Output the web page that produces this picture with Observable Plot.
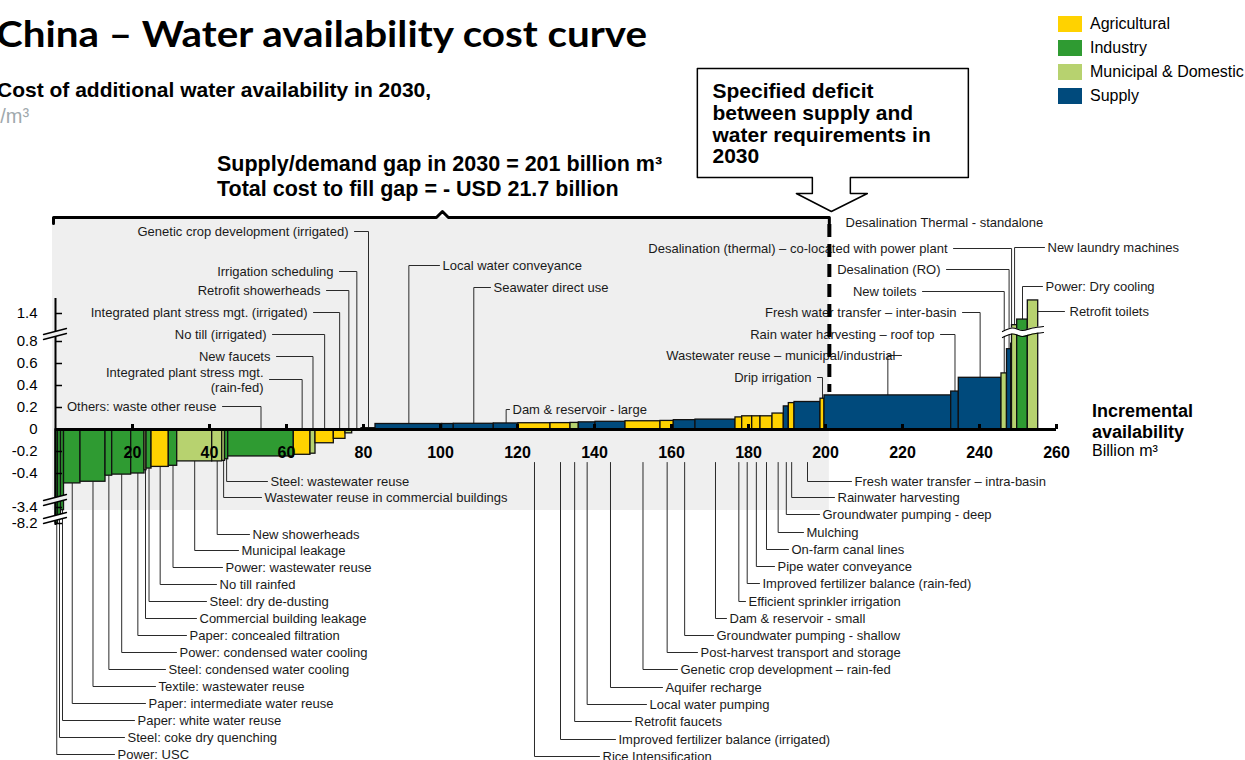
<!DOCTYPE html>
<html><head><meta charset="utf-8">
<script src="https://cdn.jsdelivr.net/npm/d3@7"></script>
<script src="https://cdn.jsdelivr.net/npm/@observablehq/plot@0.6"></script>
<style>
html,body{margin:0;padding:0;background:#fff;}
#wrap{position:relative;width:1245px;height:760px;overflow:hidden;font-family:"Liberation Sans",Arial,sans-serif;color:#000;}
#chart{position:absolute;left:0;top:0;}
.t{position:absolute;white-space:nowrap;line-height:1;}
.sw{position:absolute;width:24px;height:16px;}
</style></head>
<body>
<div id="wrap">
<div id="chart"></div>
<div class="t" id="title" style="left:-4px;top:14px;font-family:Lato,'Noto Sans',sans-serif;font-weight:700;font-size:37px;">China – Water availability cost curve</div>
<div class="t" style="left:-3px;top:79px;font-weight:bold;font-size:21px;">Cost of additional water availability in 2030,</div>
<div class="t" style="left:-42px;top:106px;font-size:20px;color:#9fa9ad;">USD/m³</div>
<div class="t" style="left:217px;top:154px;font-weight:bold;font-size:21.5px;">Supply/demand gap in 2030 = 201 billion m³</div>
<div class="t" style="left:217px;top:179px;font-weight:bold;font-size:21.5px;">Total cost to fill gap = - USD 21.7 billion</div>
<div id="legend"></div>
<div class="t" style="left:1092px;top:402px;font-weight:bold;font-size:18px;">Incremental</div>
<div class="t" style="left:1092px;top:423px;font-weight:bold;font-size:18px;">availability</div>
<div class="t" style="left:1092px;top:443px;font-size:16px;">Billion m³</div>
</div>
<script>
// ---------------- data ----------------
const measures = [
"Power: USC","Steel: coke dry quenching","Paper: white water reuse","Paper: intermediate water reuse",
"Textile: wastewater reuse","Steel: condensed water cooling","Power: condensed water cooling","Paper: concealed filtration",
"Commercial building leakage","Steel: dry de-dusting","No till rainfed","Power: wastewater reuse",
"Municipal leakage","New showerheads","Wastewater reuse in commercial buildings","Steel: wastewater reuse",
"Others: waste other reuse","Integrated plant stress mgt. (rain-fed)","New faucets","No till (irrigated)",
"Integrated plant stress mgt. (irrigated)","Retrofit showerheads","Irrigation scheduling","Genetic crop development (irrigated)",
"Local water conveyance","Other supply","Seawater direct use","Dam & reservoir - large",
"Rice Intensification","Improved fertilizer balance (irrigated)","Retrofit faucets","Local water pumping",
"Aquifer recharge","Genetic crop development – rain-fed","Post-harvest transport and storage","Groundwater pumping - shallow",
"Dam & reservoir - small","Efficient sprinkler irrigation","Improved fertilizer balance (rain-fed)","Pipe water conveyance",
"On-farm canal lines","Mulching","Groundwater pumping - deep","Rainwater harvesting",
"Fresh water transfer – intra-basin","Drip irrigation","Wastewater reuse – municipal/industrial","Rain water harvesting – roof top",
"Fresh water transfer – inter-basin","New toilets","Desalination (RO)","Desalination (thermal) – co-located with power plant",
"New laundry machines","Power: Dry cooling","Retrofit toilets"];
// incremental availability, billion m3
const widths = [
0.65,0.78,0.78,4.28, 6.5,1.74,4.93,3.46, 0.52,1.3,4.49,2.18, 9.09,2.6,0.73,0.83,
17.04,4.33,1.3,4.76, 3.03,1.74,2.42,3.64, 17.32,3.01,10.39,6.42, 8.31,5.2,2.15,4.34,
7.79,9.09,3.46,5.63, 10.39,1.74,2.6,2.16, 3.11,2.94,1.3,1.48, 6.75,1.04,32.91,1.97,
11.09,1.43,1.09,0.21, 1.35,2.76,2.7];
// cost, USD per m3
const costs = [
-8.2,-6.0,-4.2,-0.49, -0.475,-0.42,-0.41,-0.40, -0.37,-0.355,-0.34,-0.33, -0.29,-0.29,-0.285,-0.27,
-0.245,-0.23,-0.22,-0.125, -0.085,-0.035,-0.01,0.012, 0.05,0.05,0.052,0.055, 0.057,0.058,0.06,0.065,
0.07,0.075,0.078,0.085, 0.09,0.11,0.12,0.12, 0.12,0.145,0.21,0.24, 0.25,0.28,0.31,0.345,
0.47,0.51,0.73,0.78, 1.15,1.27,1.68];
const A="Agricultural", I="Industry", M="Municipal & Domestic", S="Supply";
const sectors = [
I,I,I,I, I,I,I,I, M,I,A,I, M,M,M,I,
I,A,M,A, A,M,A,A, S,S,S,S, A,A,M,S,
S,A,A,S, S,A,A,A, A,A,S,A, S,A,S,S,
S,M,S,S, M,I,M];
const categories = ["Agricultural","Industry","Municipal & Domestic","Supply"];
const categoryColors = ["#FFD200","#2F9B32","#B7D26F","#004A7C"];
const xTickValues = [20,40,60,80,100,120,140,160,180,200,220,240,260];
const yTickValues = [1.4,0.8,0.6,0.4,0.2,0,-0.2,-0.4,-3.4,-8.2];
const yTickLabels = ["1.4","0.8","0.6","0.4","0.2","0","-0.2","-0.4","-3.4","-8.2"];
const GAP = 201;

// ---------------- label layout (annotation) ----------------
// [measure, kind, row (px), text anchor x (px), optional text]
const labelSpecs = [
["Genetic crop development (irrigated)","TL",231,348],
["Irrigation scheduling","TL",271,333],
["Retrofit showerheads","TL",290,320],
["Integrated plant stress mgt. (irrigated)","TL",312,307],
["No till (irrigated)","TL",334,266],
["New faucets","TL",356,270],
["Integrated plant stress mgt. (rain-fed)","TL",379,263,"Integrated plant stress mgt.\n(rain-fed)"],
["Others: waste other reuse","TL",406,216],
["Drip irrigation","TL",377,811],
["Wastewater reuse – municipal/industrial","TL",355,895],
["Rain water harvesting – roof top","TL",334,934],
["Fresh water transfer – inter-basin","TL",312,956],
["New toilets","TL",291,916],
["Desalination (RO)","TL",269,940],
["Desalination (thermal) – co-located with power plant","TL",248,947],
["Local water conveyance","TR",265,442],
["Seawater direct use","TR",287,493],
["Dam & reservoir - large","TR",409,512],
["New laundry machines","TR",247,1047],
["Power: Dry cooling","TR",286,1045],
["Retrofit toilets","SIDE",311,1069],
["Steel: wastewater reuse","BR",481,270],
["Wastewater reuse in commercial buildings","BR",497,264],
["New showerheads","BR",534,252],
["Municipal leakage","BR",550,241],
["Power: wastewater reuse","BR",567,225],
["No till rainfed","BR",584,219],
["Steel: dry de-dusting","BR",601,209],
["Commercial building leakage","BR",618,199],
["Paper: concealed filtration","BR",635,189],
["Power: condensed water cooling","BR",652,179],
["Steel: condensed water cooling","BR",669,168],
["Textile: wastewater reuse","BR",686,158],
["Paper: intermediate water reuse","BR",703,148],
["Paper: white water reuse","BR",720,137],
["Steel: coke dry quenching","BR",737,127],
["Power: USC","BR",754,117],
["Fresh water transfer – intra-basin","BR",481,854],
["Rainwater harvesting","BR",497,837],
["Groundwater pumping - deep","BR",514,822],
["Mulching","BR",532,806],
["On-farm canal lines","BR",549,791],
["Pipe water conveyance","BR",566,777],
["Improved fertilizer balance (rain-fed)","BR",583,762],
["Efficient sprinkler irrigation","BR",601,748],
["Dam & reservoir - small","BR",618,729],
["Groundwater pumping - shallow","BR",635,716],
["Post-harvest transport and storage","BR",652,700],
["Genetic crop development – rain-fed","BR",669,680],
["Aquifer recharge","BR",687,665],
["Local water pumping","BR",704,649],
["Retrofit faucets","BR",721,634],
["Improved fertilizer balance (irrigated)","BR",739,618],
["Rice Intensification","BR",756,602]
];

// ---------------- scales ----------------
// broken value axis: piecewise mapping used as the Plot y scale transform
const X_DOMAIN = [0,260], X_RANGE = [55,1056];
const Y_DOMAIN = [-8.2,-3.4,-0.5,0.8,1.4,2.0], Y_RANGE = [523,507,484,341,313,285];
const xs = d3.scaleLinear(X_DOMAIN, X_RANGE), ys = d3.scaleLinear(Y_DOMAIN, Y_RANGE);
const X = p => xs.invert(p), Y = p => ys.invert(p);

const bars = measures.map((name,i)=>({name, width: widths[i], cost: costs[i], sector: sectors[i]}));
let acc = 0;
for (const b of bars){ b.x1 = acc; acc += b.width; b.x2 = acc; b.xm = (b.x1+b.x2)/2; }
const byName = new Map(bars.map(b=>[b.name,b]));

const leaders = [], textsEnd = [], textsStart = [];
labelSpecs.forEach(([name,kind,row,tx,txt],k)=>{
  const b = byName.get(name); const label = txt || name; const ry = Y(row);
  const top = b.cost < 0 ? 0 : b.cost;
  let pts;
  if (kind === "TL"){ pts = [[X(tx+6),ry],[b.xm,ry],[b.xm,top]]; textsEnd.push({x:X(tx),y:ry,label}); }
  else if (kind === "TR"){ pts = [[b.xm,top],[b.xm,ry],[X(tx-3),ry]]; textsStart.push({x:X(tx),y:ry,label}); }
  else if (kind === "SIDE"){ pts = [[b.x2,ry],[X(tx-5),ry]]; textsStart.push({x:X(tx),y:ry,label}); }
  else { const start = b.cost < 0 ? b.cost : Y(462); pts = [[b.xm,start],[b.xm,ry],[X(tx-3),ry]]; textsStart.push({x:X(tx),y:ry,label}); }
  pts.forEach(([x,y])=>leaders.push({id:k,x,y}));
});
textsStart.push({x:X(845), y:Y(222), label:"Desalination Thermal - standalone"});

// axis break marks
const gp = xs(GAP);
const axisBreaks = [[331,"#efefef"],[497,"#efefef"],[515,"#ffffff"]];
const breakMarks = [];
axisBreaks.forEach(([yc,fill],k)=>{
  const poly = [[43,yc+3],[66,yc-3],[66,yc+2],[43,yc+8]].map(([x,y])=>({x:X(x),y:Y(y)}));
  breakMarks.push(Plot.line(poly,{x:"x",y:"y",fill,stroke:"none"}));
  const ln = [[43,yc+3,0],[66,yc-3,0],[43,yc+8,1],[66,yc+2,1]].map(([x,y,z])=>({x:X(x),y:Y(y),z}));
  breakMarks.push(Plot.line(ln,{x:"x",y:"y",z:"z",stroke:"#000",strokeWidth:1.3}));
});
const wavePx = [1002,1012,1022,1032,1043];
const waveOff = [2,-1.5,1,-1.5,-3];
const wave = wavePx.map((x,i)=>({x:X(x), top:Y(329+waveOff[i]), bot:Y(335+waveOff[i])}));

const bracket = [[xs(0)-2,223],[xs(0)-2,217],[(xs(0)+gp)/2-6,217],[(xs(0)+gp)/2,211],[(xs(0)+gp)/2+6,217],[gp,217],[gp,223]]
  .map(([x,y])=>({x:X(x),y:Y(y)}));
const callout = [[gp-132,68],[gp+139,68],[gp+139,177],[gp+21,177],[gp+21,193],[gp+38,193],[gp+2,211],[gp-33,193],[gp-17,193],[gp-17,177],[gp-132,177],[gp-132,68]]
  .map(([x,y])=>({x:X(x),y:Y(y)}));

const plot = Plot.plot({
  width:1245, height:760, margin:0,
  style:{fontFamily:"'Liberation Sans', Arial, sans-serif", background:"transparent", overflow:"visible"},
  x:{domain:X_DOMAIN, range:X_RANGE, axis:null},
  y:{type:"linear", transform:v=>ys(v), domain:[0,760], range:[0,760], axis:null},
  color:{domain:categories, range:categoryColors},
  marks:[
    Plot.rect([0],{x1:()=>X(52), x2:()=>GAP, y1:()=>Y(510), y2:()=>Y(217), fill:"#efefef"}),
    Plot.line(leaders,{x:"x",y:"y",z:"id",stroke:"#2a2a2a",strokeWidth:1}),
    Plot.rect(bars,{x1:"x1",x2:"x2",y1:()=>0,y2:"cost",fill:"sector",stroke:"#111",strokeWidth:1.3}),
    Plot.ruleX([0],{y1:()=>Y(525),y2:()=>Y(298),stroke:"#000",strokeWidth:2}),
    Plot.ruleY(yTickValues,{x1:()=>0,x2:()=>X(62),stroke:"#000",strokeWidth:1.5}),
    ...breakMarks,
    Plot.areaY(wave,{x:"x",y1:"top",y2:"bot",fill:"#fff",curve:"catmull-rom"}),
    Plot.line(wave,{x:"x",y:"top",stroke:"#000",strokeWidth:1.2,curve:"catmull-rom"}),
    Plot.line(wave,{x:"x",y:"bot",stroke:"#000",strokeWidth:1.2,curve:"catmull-rom"}),
    Plot.ruleY([0],{x1:()=>0,x2:()=>260,stroke:"#000",strokeWidth:3}),
    Plot.ruleX(xTickValues,{y1:()=>0,y2:()=>Y(424),stroke:"#000",strokeWidth:3}),
    Plot.text(yTickValues,{x:()=>0,y:d=>d,text:(d,i)=>yTickLabels[i],dx:-18,textAnchor:"end",fontSize:15,fill:"#000"}),
    Plot.text(xTickValues,{x:d=>d,y:()=>0,text:d=>String(d),dy:23,fontWeight:"bold",fontSize:16,fill:"#000"}),
    Plot.text(textsEnd,{x:"x",y:"y",text:"label",textAnchor:"end",fontSize:13,fill:"#1a1a1a",lineHeight:1.15}),
    Plot.text(textsStart,{x:"x",y:"y",text:"label",textAnchor:"start",fontSize:13,fill:"#1a1a1a"}),
    Plot.ruleX([GAP],{y1:()=>Y(224),y2:()=>Y(392),stroke:"#000",strokeWidth:4,strokeDasharray:"13,7"}),
    Plot.line(bracket,{x:"x",y:"y",stroke:"#000",strokeWidth:3,strokeLinejoin:"round"}),
    Plot.line(callout,{x:"x",y:"y",fill:"#fff",stroke:"#000",strokeWidth:1.5}),
    Plot.text(["Specified deficit\nbetween supply and\nwater requirements in\n2030"],{x:()=>X(712),y:()=>Y(123.5),text:d=>d,textAnchor:"start",fontSize:21,fontWeight:"bold",lineHeight:1.03,fill:"#000"})
  ]
});
document.getElementById("chart").appendChild(plot);

// legend
const legend = document.getElementById("legend");
categories.forEach((c,i)=>{
  const cy = 24 + 24*i;
  const sw = document.createElement("div"); sw.className="sw";
  sw.style.left="1058px"; sw.style.top=(cy-8)+"px"; sw.style.background=categoryColors[i];
  const tx = document.createElement("div"); tx.className="t";
  tx.style.left="1090px"; tx.style.top=(cy-8.5)+"px"; tx.style.fontSize="16px"; tx.textContent=c;
  legend.appendChild(sw); legend.appendChild(tx);
});
function fitTitle(){
  const t = document.getElementById("title");
  t.style.transform = "none";
  const w = t.getBoundingClientRect().width;
  t.style.transformOrigin = "0 0";
  t.style.transform = `scaleX(${651/w})`;
}
fitTitle();
if (document.fonts) document.fonts.ready.then(fitTitle);
</script>
</body></html>
